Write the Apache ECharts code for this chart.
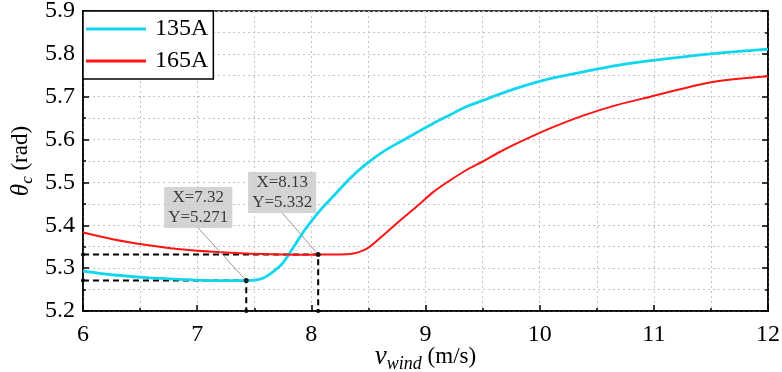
<!DOCTYPE html>
<html>
<head>
<meta charset="utf-8">
<script src="https://cdn.jsdelivr.net/npm/echarts@6/dist/echarts.min.js"></script>
<style>html,body{margin:0;padding:0;background:#fff}#c{width:782px;height:372px}</style>
</head>
<body>
<div id="c"></div>
<script>
// ---- data ----
const seriesNames = ['135A', '165A'];
const v135 = [6.0, 6.27, 6.56, 6.85, 7.14, 7.43, 7.58, 7.73, 7.80, 7.87, 7.95, 8.08, 8.19, 8.34, 8.49, 8.63, 8.78, 8.92, 9.07, 9.21, 9.36, 9.51, 9.65, 9.80, 10.09, 10.38, 10.68, 10.97, 11.5, 12.0];
const theta135 = [5.293, 5.284, 5.278, 5.274, 5.271, 5.271, 5.277, 5.306, 5.331, 5.360, 5.392, 5.436, 5.467, 5.510, 5.545, 5.572, 5.595, 5.616, 5.638, 5.657, 5.677, 5.692, 5.706, 5.720, 5.742, 5.758, 5.773, 5.784, 5.800, 5.811];
const v165 = [6.0, 6.27, 6.56, 6.85, 7.14, 7.43, 7.73, 7.90, 8.06, 8.20, 8.34, 8.49, 8.63, 8.78, 8.92, 9.07, 9.21, 9.36, 9.51, 9.65, 9.80, 10.09, 10.38, 10.68, 10.97, 11.5, 12.0];
const theta165 = [5.383, 5.367, 5.354, 5.344, 5.338, 5.334, 5.332, 5.331, 5.332, 5.332, 5.333, 5.346, 5.377, 5.412, 5.443, 5.478, 5.504, 5.529, 5.550, 5.571, 5.591, 5.626, 5.656, 5.681, 5.700, 5.734, 5.748];
const annoX = [7.43, 8.06];
const annoY = [5.271, 5.332];
const annoText = ['X=7.32\nY=5.271', 'X=8.13\nY=5.332'];
const xMin = 6, xMax = 12, yMin = 5.2, yMax = 5.9;

// ---- chart ----
const chart = echarts.init(document.getElementById('c'), null, {renderer: 'canvas'});
const FONT = '"Liberation Serif", "Times New Roman", serif';
const colors = ['#12d6ee', '#ff1414'];
const labelOffsets = [[-48, -73], [-36, -62]];

const zip = (a, b) => a.map((x, i) => [x, b[i]]);
const dashSeries = annoX.map((x, i) => ({
  type: 'line', name: 'guide' + i,
  data: [[xMin, annoY[i]], [x, annoY[i]], [x, yMin]],
  symbol: 'circle', symbolSize: 4, showSymbol: true,
  itemStyle: {color: '#000'},
  lineStyle: {color: '#000', width: 2, type: [6, 4]},
  z: 3, silent: true, animation: false
}));

const axisCommon = {
  axisLine: {show: true, lineStyle: {color: '#000', width: 1.5}},
  axisTick: {show: true, inside: true, length: 6, lineStyle: {color: '#000', width: 1.5}},
  minorTick: {show: true, splitNumber: 2, length: 3, lineStyle: {color: '#000', width: 1.5}},
  splitLine: {show: true, lineStyle: {color: '#c4c4c4', type: [2, 3], width: 1}},
  minorSplitLine: {show: true, lineStyle: {color: '#c4c4c4', type: [2, 3], width: 1}},
  axisLabel: {color: '#000', fontFamily: FONT, fontSize: 24}
};

chart.setOption({
  animation: false,
  backgroundColor: '#fff',
  grid: {left: 83, right: 14, top: 11, bottom: 61, show: true, borderColor: '#000', borderWidth: 1.5,
    backgroundColor: 'transparent', containLabel: false, outerBoundsMode: 'none'},
  legend: {
    data: seriesNames, orient: 'vertical', left: 83, top: 11,
    padding: [6, 5, 6, 3], itemGap: 8, itemWidth: 60, itemHeight: 3, icon: 'rect',
    borderColor: '#000', borderWidth: 1.5, backgroundColor: '#fff',
    textStyle: {fontFamily: FONT, fontSize: 24, lineHeight: 24, color: '#000', padding: [0, 0, 0, 4]},
    z: 10
  },
  xAxis: [
    Object.assign({}, axisCommon, {
      type: 'value', min: xMin, max: xMax, interval: 1,
      axisLabel: Object.assign({}, axisCommon.axisLabel, {margin: 12}),
      name: '{i|v}{s|wind} (m/s)', nameLocation: 'middle', nameGap: 30, nameMoveOverlap: false,
      nameTextStyle: {
        fontFamily: FONT, fontSize: 23, color: '#000',
        rich: {
          i: {fontFamily: FONT, fontSize: 27, fontStyle: 'italic', color: '#000'},
          s: {fontFamily: FONT, fontSize: 18, fontStyle: 'italic', color: '#000', padding: [14, 0, 0, 0]}
        }
      }
    })
  ],
  yAxis: [
    Object.assign({}, axisCommon, {
      type: 'value', min: yMin, max: yMax, interval: 0.1,
      axisLabel: Object.assign({}, axisCommon.axisLabel, {margin: 8, formatter: v => v.toFixed(1)}),
      name: '{i|θ}{s|c} (rad)', nameLocation: 'middle', nameGap: 47, nameMoveOverlap: false,
      nameTextStyle: {
        fontFamily: FONT, fontSize: 23, color: '#000',
        rich: {
          i: {fontFamily: FONT, fontSize: 25, fontStyle: 'italic', color: '#000'},
          s: {fontFamily: FONT, fontSize: 17, fontStyle: 'italic', color: '#000', padding: [13, 0, 0, 0]}
        }
      }
    }),
    Object.assign({}, axisCommon, {
      type: 'value', min: yMin, max: yMax, interval: 0.1, position: 'right',
      axisLabel: {show: false}, splitLine: {show: false}, minorSplitLine: {show: false}
    })
  ],
  series: [
    {type: 'line', name: seriesNames[0], data: zip(v135, theta135), symbol: 'none', smooth: 0.3,
      lineStyle: {color: colors[0], width: 2.8}, itemStyle: {color: colors[0]}, z: 4},
    {type: 'line', name: seriesNames[1], data: zip(v165, theta165), symbol: 'none', smooth: 0.3,
      lineStyle: {color: colors[1], width: 2}, itemStyle: {color: colors[1]}, z: 4},
    ...dashSeries,
    {
      type: 'scatter', name: 'anno', data: zip(annoX, annoY), symbolSize: 5,
      itemStyle: {color: '#000'}, z: 6,
      label: {
        show: true, position: 'inside', formatter: p => annoText[p.dataIndex],
        fontFamily: FONT, fontSize: 17, lineHeight: 20, color: '#111',
        backgroundColor: '#c9c9c9', padding: [1, 4, 0, 4], align: 'center', verticalAlign: 'middle'
      },
      labelLayout: p => ({dx: labelOffsets[p.dataIndex][0], dy: labelOffsets[p.dataIndex][1], hideOverlap: false}),
      labelLine: {show: true, lineStyle: {color: '#9a9a9a', width: 1}}
    }
  ]
});
</script>
</body>
</html>
